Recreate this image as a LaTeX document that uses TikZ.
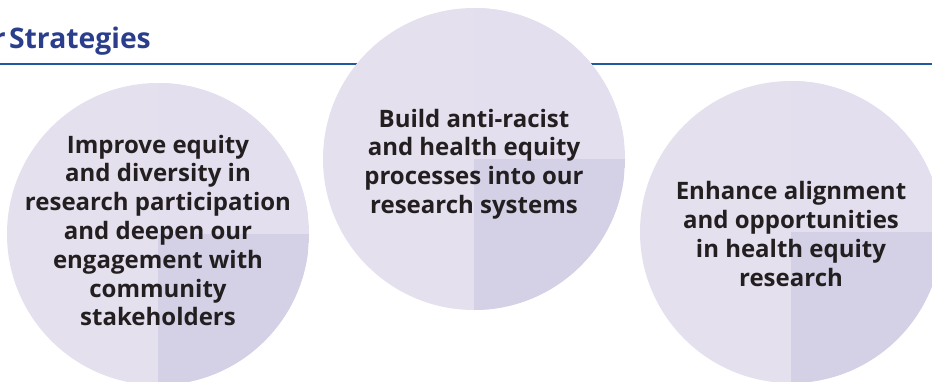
\documentclass[tikz,border=0pt]{standalone}
\usepackage{fontspec}
\setmainfont{Open Sans}
\usepackage{tikz}

\definecolor{titleblue}{HTML}{2B3E8C}
\definecolor{ruleblue}{HTML}{1F5AA0}
\definecolor{quadlight}{HTML}{E5E0EE}
\definecolor{quadtr}{HTML}{E3DFEE}
\definecolor{quaddark}{HTML}{D4D1E7}
\definecolor{textdark}{HTML}{231F20}

\tikzset{
    strategy/.style={circle, minimum size=302pt, inner sep=0pt, fill=quadlight,
        path picture={
            \fill[quadtr] (path picture bounding box.center)
                rectangle (path picture bounding box.north east);
            \fill[quaddark] (path picture bounding box.center)
                rectangle (path picture bounding box.south east);
        }},
    strategytext/.style={align=center, text=textdark, inner sep=0pt,
        font=\bfseries\fontsize{24}{28.8}\selectfont},
    heading/.style={text=titleblue, font=\bfseries\fontsize{28.3}{34}\selectfont,
        inner sep=0pt}
}

\begin{document}
\begin{tikzpicture}[x=1pt, y=-1pt]

        % Page frame (cuts the circles at the edges)
        \useasboundingbox (0,0) rectangle (932,381);
        \clip (0,0) rectangle (932,381);

        % Heading and rule
        \node[heading, anchor=base east] (title) at (151,48) {Our\hspace{0.12em}Strategies};
        \coordinate (rule west) at (0,64);
        \coordinate (rule east) at (932,64);
        \draw[ruleblue, line width=1.5pt] (rule west) -- (rule east);

        % The three strategies
        \node[strategy] (improve) at (158,234) {};
        \node[strategy] (build) at (474,159) {};
        \node[strategy] (enhance) at (791,232) {};

        \node[strategytext] (improve text) at ([yshift=3.5pt]improve.center)
            {Improve equity\\and diversity in\\research participation\\and deepen our\\engagement with\\community\\stakeholders};
        \node[strategytext] (build text) at ([yshift=-5pt]build.center)
            {Build anti-racist\\and health equity\\processes into our\\research systems};
        \node[strategytext] (enhance text) at ([yshift=-2pt]enhance.center)
            {Enhance alignment\\and opportunities\\in health equity\\research};

    \end{tikzpicture}
\end{document}
